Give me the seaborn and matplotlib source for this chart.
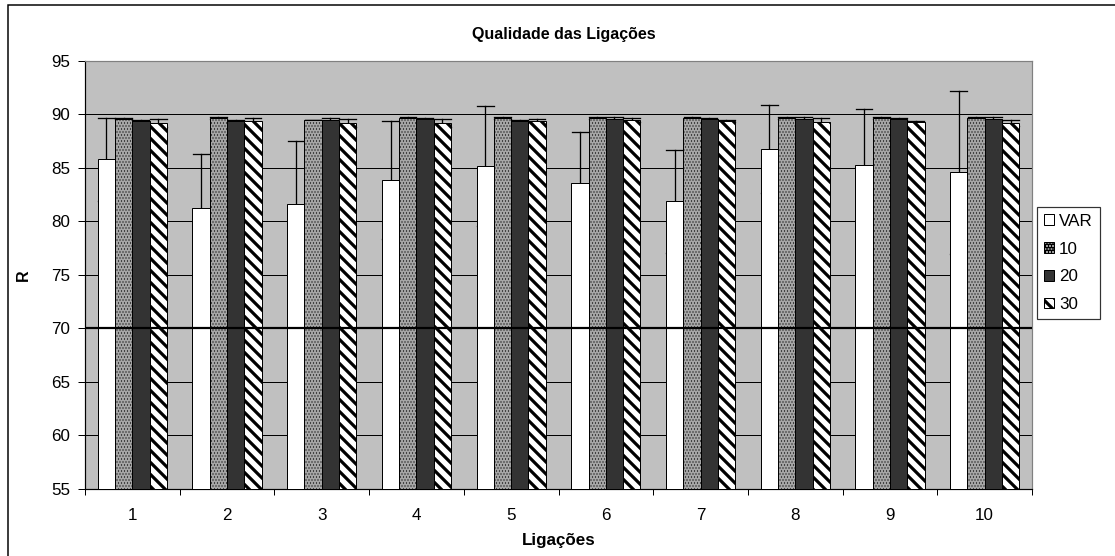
import numpy as np
import pandas as pd
import matplotlib
matplotlib.use("Agg")
import matplotlib.pyplot as plt
import seaborn as sns
from matplotlib.patches import Rectangle

# data
ligacoes = ["1", "2", "3", "4", "5", "6", "7", "8", "9", "10"]
series = ["VAR", "10", "20", "30"]

var_mean = [85.8, 81.3, 81.6, 83.9, 85.2, 83.6, 81.9, 86.8, 85.3, 84.6]
var_err = [3.9, 5.0, 5.9, 5.5, 5.6, 4.8, 4.8, 4.1, 5.2, 7.6]
s10_mean = [89.6, 89.7, 89.5, 89.7, 89.7, 89.7, 89.7, 89.7, 89.7, 89.7]
s10_err = [0.05, 0.1, 0.0, 0.1, 0.1, 0.1, 0.1, 0.1, 0.1, 0.05]
s20_mean = [89.4, 89.4, 89.5, 89.6, 89.4, 89.6, 89.6, 89.6, 89.6, 89.6]
s20_err = [0.1, 0.1, 0.2, 0.1, 0.1, 0.2, 0.1, 0.2, 0.1, 0.2]
s30_mean = [89.2, 89.4, 89.2, 89.2, 89.4, 89.5, 89.4, 89.3, 89.3, 89.2]
s30_err = [0.4, 0.3, 0.4, 0.4, 0.2, 0.2, 0.1, 0.4, 0.1, 0.3]

y_ticks = [55, 60, 65, 70, 75, 80, 85, 90, 95]
limite = 70

means = {"VAR": var_mean, "10": s10_mean, "20": s20_mean, "30": s30_mean}
errs = {"VAR": var_err, "10": s10_err, "20": s20_err, "30": s30_err}

# two rows per bar (mean - err, mean + err) so seaborn draws the range as error bar
rows = []
for s in series:
    for i, lig in enumerate(ligacoes):
        m, e = means[s][i], errs[s][i]
        rows.append({"Ligacao": lig, "Serie": s, "R": m - e})
        rows.append({"Ligacao": lig, "Serie": s, "R": m + e})
df = pd.DataFrame(rows)

plt.rcParams["font.family"] = ["Liberation Sans", "DejaVu Sans"]
plt.rcParams["hatch.linewidth"] = 3.2

fig = plt.figure(figsize=(1115 / 72, 556 / 72), dpi=72)
ax = fig.add_axes([85 / 1115, 1 - 489 / 556, (1032 - 85) / 1115, (489 - 61) / 556])
ax.set_facecolor("#c0c0c0")

palette = {"VAR": "white", "10": "#a6a6a6", "20": "#333333", "30": "white"}
sns.barplot(data=df, x="Ligacao", y="R", hue="Serie", order=ligacoes,
            hue_order=series, palette=palette, width=0.73, estimator="mean",
            errorbar=lambda v: (v.min(), v.max()), capsize=0.7,
            err_kws={"color": "black", "linewidth": 1.3},
            edgecolor="black", linewidth=1.0, saturation=1, legend=False,
            ax=ax, zorder=3)

hatches = {"VAR": None, "10": "....", "20": None, "30": "\\\\"}
for s, cont in zip(series, ax.containers):
    for p in cont:
        if hatches[s]:
            p.set_hatch(hatches[s])
            if s == "10" and hasattr(p, "set_hatch_linewidth"):
                p.set_hatch_linewidth(0.6)

# grid and threshold line
ax.set_ylim(55, 95)
ax.set_yticks(y_ticks)
for y in y_ticks[1:-1]:
    ax.axhline(y, color="black", lw=1.0, zorder=1)
ax.axhline(limite, color="black", lw=2.2, zorder=6)

ax.set_xlim(-0.5, len(ligacoes) - 0.5)
ax.set_xticks(range(len(ligacoes)))
ax.set_xticklabels(ligacoes)
ax.set_xticks(np.arange(-0.5, len(ligacoes)), minor=True)
ax.tick_params(axis="x", which="major", length=0, pad=19, labelsize=17)
ax.tick_params(axis="x", which="minor", length=6, width=1, color="black")
ax.tick_params(axis="y", length=7, width=1, pad=8, labelsize=17, color="black")

for side in ["left", "bottom"]:
    ax.spines[side].set_color("black")
    ax.spines[side].set_linewidth(1.2)
for side in ["top", "right"]:
    ax.spines[side].set_color("#808080")
    ax.spines[side].set_linewidth(1.2)

ax.set_xlabel("Ligações", fontsize=17, fontweight="bold", labelpad=10)
ax.set_ylabel("R", fontsize=16, fontweight="bold", labelpad=20)
fig.text(564 / 1115, 1 - 34 / 556, "Qualidade das Ligações", ha="center",
         va="center", fontsize=16, fontweight="bold")

leg = ax.legend(ax.containers, series, loc="upper left",
                bbox_to_anchor=(1037 / 1115, 1 - 207 / 556),
                bbox_transform=fig.transFigure, borderaxespad=0,
                fontsize=17, frameon=True, fancybox=False, edgecolor="black",
                handlelength=0.6, handleheight=0.6, handletextpad=0.3,
                labelspacing=0.75, borderpad=0.4)
leg.get_frame().set_linewidth(1.2)

# chart border (excel style, partly cut off)
fig.patches.append(Rectangle((8 / 1115, -0.1), 1.2, 1 - 5 / 556 + 0.1,
                             transform=fig.transFigure, fill=False,
                             edgecolor="black", lw=1.5))

fig.savefig("out.png", dpi=72, facecolor="white")
